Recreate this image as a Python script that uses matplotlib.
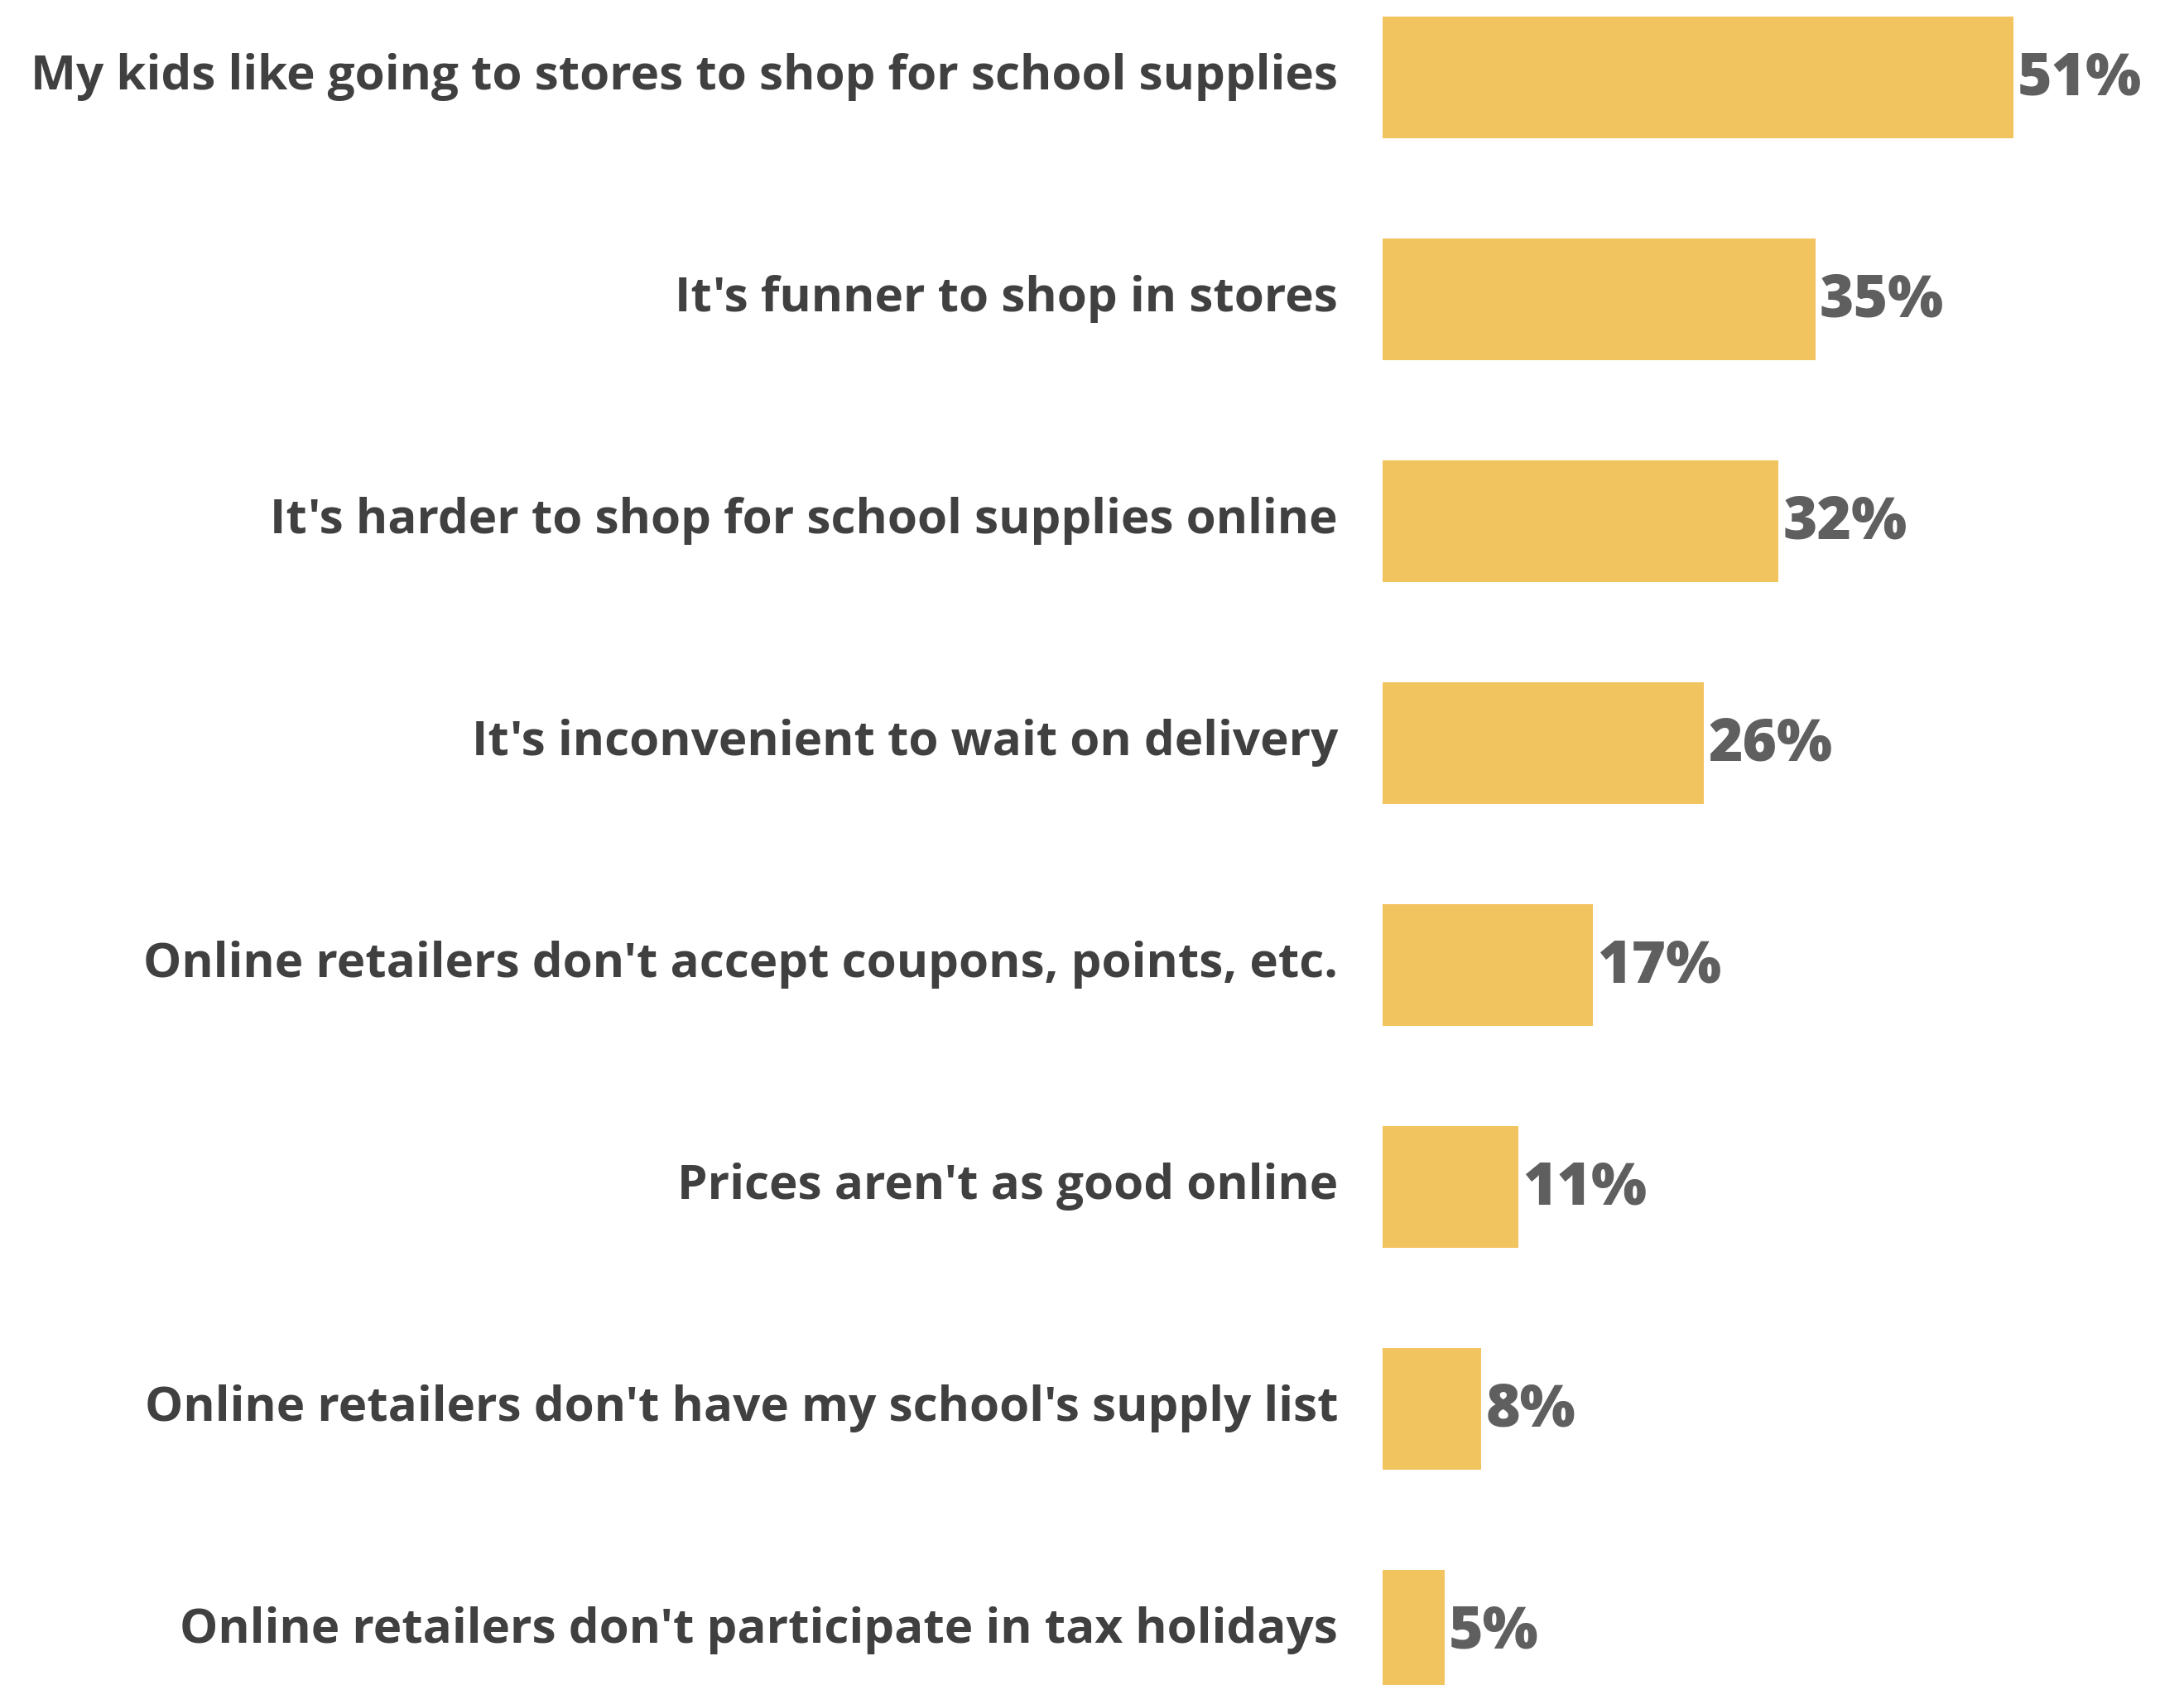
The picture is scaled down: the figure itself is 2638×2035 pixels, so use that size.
import matplotlib
matplotlib.use("Agg")
import matplotlib.pyplot as plt

reasons = [
    "My kids like going to stores to shop for school supplies",
    "It's funner to shop in stores",
    "It's harder to shop for school supplies online",
    "It's inconvenient to wait on delivery",
    "Online retailers don't accept coupons, points, etc.",
    "Prices aren't as good online",
    "Online retailers don't have my school's supply list",
    "Online retailers don't participate in tax holidays",
]
shares = [51, 35, 32, 26, 17, 11, 8, 5]

bar_color = "#F2C45F"
label_color = "#404040"
value_color = "#5F5F5F"

plt.rcParams['font.family'] = ['Open Sans', 'DejaVu Sans']

fig = plt.figure(figsize=(26.38, 20.35), dpi=100)
ax = fig.add_axes([0.633, 0.0, 0.3625, 1.0])

ypos = list(range(len(reasons)))
ax.barh(ypos, shares, height=0.55, color=bar_color, left=0)

for y, v, name in zip(ypos, shares, reasons):
    ax.text(v + 0.35, y + 0.01, f"{v}%", va="center", ha="left",
            fontsize=51, fontweight="heavy", color=value_color)
    ax.text(-3.6, y, name, va="center", ha="right",
            fontsize=42, fontweight="bold", color=label_color)

ax.set_xlim(0, 64)
ax.set_ylim(7.245, -0.3485)
ax.axis("off")

fig.savefig("out.png", dpi=100)
